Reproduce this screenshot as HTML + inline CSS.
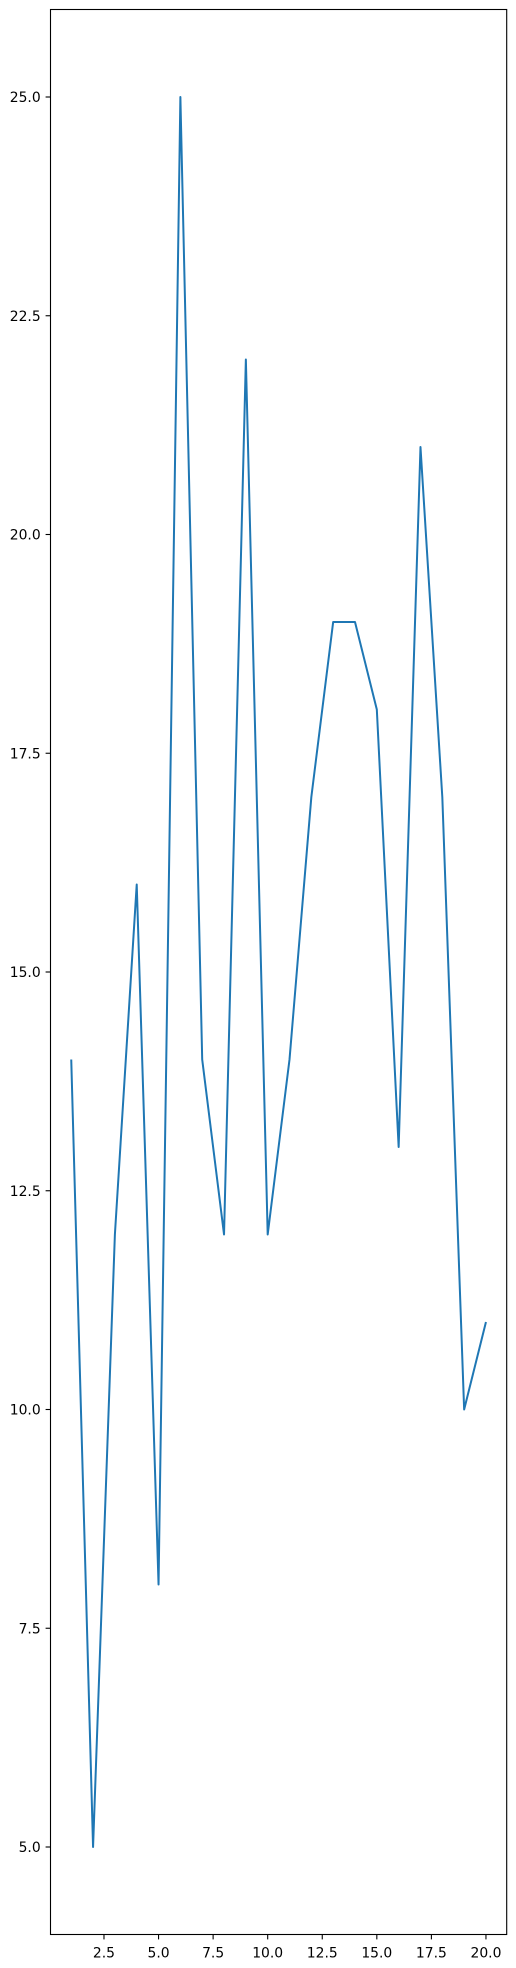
<!DOCTYPE html>
<html><head><meta charset="utf-8"><style>body{margin:0;background:#fff}svg{display:block;font-family:"DejaVu Sans","Liberation Sans",sans-serif}</style></head>
<body>
<svg id="chart" width="516" height="1968" xmlns="http://www.w3.org/2000/svg"></svg>
<script>
const xValues=[1,2,3,4,5,6,7,8,9,10,11,12,13,14,15,16,17,18,19,20];
const yValues=[14,5,12,16,8,25,14,12,22,12,14,17,19,19,18,13,21,17,10,11];
const xTicks=[2.5,5.0,7.5,10.0,12.5,15.0,17.5,20.0];
const yTicks=[5.0,7.5,10.0,12.5,15.0,17.5,20.0,22.5,25.0];
const L=50.5,R=506.7,T=9.5,B=1934.5;
const xMin=0.05,xMax=20.95,yMin=4,yMax=26;
const sx=v=>L+(v-xMin)/(xMax-xMin)*(R-L);
const sy=v=>B-(v-yMin)/(yMax-yMin)*(B-T);
const svg=document.getElementById('chart');
const NS='http://www.w3.org/2000/svg';
function mk(t,a){const e=document.createElementNS(NS,t);for(const k in a)e.setAttribute(k,a[k]);svg.appendChild(e);return e;}
const pts=xValues.map((x,i)=>sx(x).toFixed(2)+','+sy(yValues[i]).toFixed(2)).join(' ');
const line=mk('polyline',{points:pts,fill:'none',stroke:'#1f77b4','stroke-width':2,'stroke-linejoin':'round'});


const frame=mk('rect',{x:L,y:T,width:R-L,height:B-T,fill:'none',stroke:'#000','stroke-width':1.1});


xTicks.forEach(v=>{
  const x=sx(v);
  const tk=mk('line',{x1:x,x2:x,y1:B,y2:B+4.9,stroke:'#000','stroke-width':1.1});
  
  
  const t=mk('text',{x:x,y:B+23,'text-anchor':'middle','font-size':13.9});
  t.textContent=v.toFixed(1);
  
  
});
yTicks.forEach(v=>{
  const y=sy(v);
  const tk=mk('line',{x1:L-4.9,x2:L,y1:y,y2:y,stroke:'#000','stroke-width':1.1});
  
  
  const t=mk('text',{x:L-9.8,y:y+5,'text-anchor':'end','font-size':13.9});
  t.textContent=v.toFixed(1);
  
  
});
</script>
</body></html>
